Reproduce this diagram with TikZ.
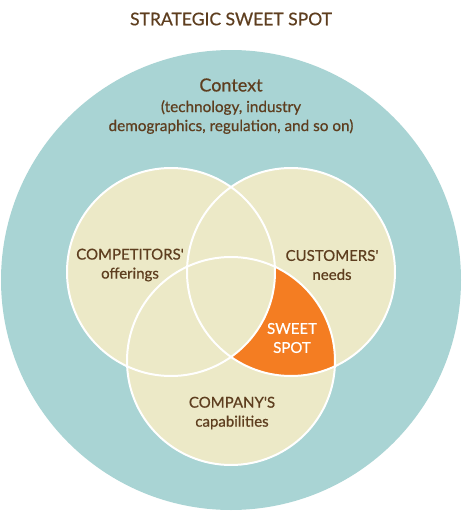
\documentclass[tikz,border=0pt]{standalone}
\usepackage{fontspec}
\setmainfont{Lato}[FakeBold=0.6]
\definecolor{ctxteal}{HTML}{A9D4D4}
\definecolor{ringbeige}{HTML}{ECE9C7}
\definecolor{spotorange}{HTML}{F47D22}
\definecolor{inkbrown}{HTML}{5E3E1F}

\begin{document}
\begin{tikzpicture}[
    x = 1pt, y = -1pt,
    ring/.style = {draw=white, line width=2pt},
    label/.style = {text=inkbrown, align=center, font=\fontsize{15}{19}\selectfont},
    spot/.style = {text=white, align=center, font=\fontsize{15}{19}\selectfont}
]
    \useasboundingbox (0,0) rectangle (464,525);

    \coordinate (ctx)  at (231,280);
    \coordinate (comp) at (171,272);
    \coordinate (cust) at (291,272);
    \coordinate (firm) at (231,361);

    \fill[ctxteal] (ctx) circle (230);

    \fill[ringbeige] (comp) circle (104) (cust) circle (104) (firm) circle (104);

    \begin{scope}
        \clip (cust) circle (104);
        \clip (firm) circle (104);
        \fill[spotorange] (firm) circle (104);
        \fill[ringbeige] (comp) circle (104);
    \end{scope}

    \draw[ring] (comp) circle (104);
    \draw[ring] (cust) circle (104);
    \draw[ring] (firm) circle (104);

    \node[label, font=\fontsize{17.5}{19}\selectfont] (title) at (231,19) {STRATEGIC SWEET SPOT};
    \node[label, font=\fontsize{18}{19}\selectfont] (context) at (231,85) {Context};
    \node[label, font=\fontsize{15.3}{19}\selectfont] (contextsub) at (231,117) {(technology, industry\\demographics, regulation, and so on)};

    \node[label] (complbl) at (130,265) {COMPETITORS\textquotesingle\\offerings};
    \node[label] (custlbl) at (332,265) {CUSTOMERS\textquotesingle\\needs};
    \node[label] (firmlbl) at (232,413) {COMPANY\textquotesingle S\\capabilities};
    \node[spot] (spotlbl) at (292,338) {SWEET\\SPOT};
\end{tikzpicture}
\end{document}
